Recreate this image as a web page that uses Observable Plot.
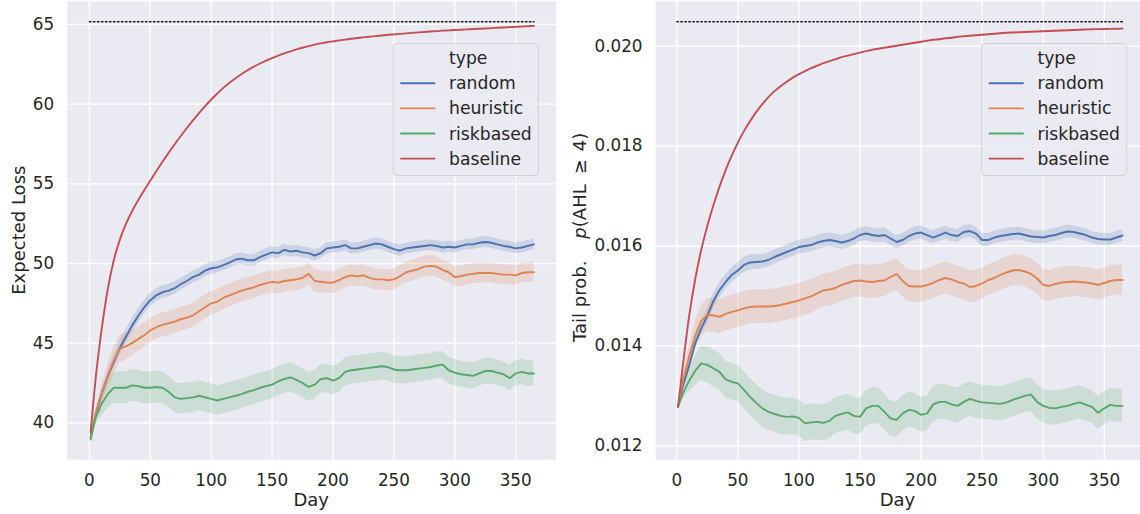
<!DOCTYPE html>
<html><head><meta charset="utf-8">
<script src="https://cdn.jsdelivr.net/npm/d3@7"></script>
<script src="https://cdn.jsdelivr.net/npm/@observablehq/plot@0.6"></script>
<style>
html,body{margin:0;padding:0;background:#fff;}
body{width:1140px;height:514px;overflow:hidden;position:relative;font-family:"DejaVu Sans",sans-serif;}
.panel{position:absolute;top:0;}
</style></head><body>
<div id="left" class="panel" style="left:0"></div>
<div id="right" class="panel" style="left:570px"></div>
<script>
const days = [1,5,10,15,20,25,30,35,40,45,
  50,55,60,65,70,75,80,85,90,95,
  100,105,110,115,120,125,130,135,140,145,
  150,155,160,165,170,175,180,185,190,195,
  200,205,210,215,220,225,230,235,240,245,
  250,255,260,265,270,275,280,285,290,295,
  300,305,310,315,320,325,330,335,340,345,
  350,355,360,365];
const types = ["random","heuristic","riskbased","baseline"];
const colors = ["#4c72b0","#dd8452","#55a868","#c44e52"];
const xTicks = [0,50,100,150,200,250,300,350];
const lossTicks = [40,45,50,55,60,65];
const tailTicks = [0.012,0.014,0.016,0.018,0.020];
const refDays = [0,365];
const lossRef = 65.17;
const tailRef = 0.02049;

// Expected loss panel
const lossRandom = [39.1,40.5,41.8,42.9,43.8,44.7,45.4,46.1,46.7,47.25,
  47.7,48.0,48.2,48.3,48.45,48.7,48.9,49.15,49.3,49.55,
  49.7,49.75,49.9,50.05,50.25,50.3,50.2,50.2,50.4,50.55,
  50.7,50.65,50.85,50.75,50.8,50.7,50.65,50.5,50.65,50.95,
  51.0,51.05,51.15,50.95,50.95,51.05,51.15,51.25,51.2,51.05,
  50.9,50.8,50.95,51.0,51.05,51.1,51.15,51.1,51.0,51.05,
  51.0,51.1,51.2,51.2,51.3,51.35,51.3,51.2,51.1,51.05,
  50.95,51.0,51.1,51.2];
const lossHeuristic = [39.1,40.5,41.8,42.9,43.9,44.65,44.8,45.0,45.25,45.5,
  45.8,46.0,46.15,46.25,46.35,46.5,46.6,46.75,47.0,47.25,
  47.5,47.6,47.85,48.0,48.15,48.3,48.4,48.5,48.65,48.75,
  48.85,48.8,48.9,48.95,49.0,49.1,49.35,48.9,48.85,48.8,
  48.8,48.95,49.15,49.25,49.2,49.25,49.1,49.0,49.0,48.95,
  49.0,49.2,49.45,49.55,49.65,49.8,49.85,49.8,49.6,49.45,
  49.15,49.2,49.3,49.35,49.4,49.4,49.4,49.35,49.3,49.3,
  49.25,49.4,49.45,49.45];
const lossRisk = [38.95,40.3,41.2,41.8,42.2,42.2,42.2,42.35,42.3,42.2,
  42.2,42.25,42.2,41.95,41.6,41.5,41.55,41.6,41.7,41.6,
  41.5,41.4,41.5,41.6,41.7,41.8,41.95,42.05,42.2,42.3,
  42.4,42.6,42.75,42.85,42.7,42.5,42.25,42.4,42.75,42.8,
  42.65,42.8,43.2,43.3,43.35,43.4,43.45,43.5,43.55,43.5,
  43.35,43.3,43.3,43.35,43.4,43.45,43.5,43.6,43.65,43.3,
  43.15,43.05,43.0,42.95,43.1,43.25,43.25,43.15,43.05,42.8,
  43.1,43.2,43.1,43.1];
const lossBaseline = [39.4,42.7,45.85,48.35,50.2,51.5,52.48,53.28,53.97,54.6,
  55.2,55.8,56.38,56.94,57.48,58.0,58.5,58.98,59.44,59.88,
  60.29,60.67,61.02,61.34,61.63,61.89,62.13,62.35,62.55,62.73,
  62.89,63.04,63.18,63.31,63.43,63.54,63.64,63.73,63.81,63.88,
  63.94,64.0,64.05,64.1,64.15,64.19,64.23,64.27,64.31,64.35,
  64.38,64.41,64.44,64.47,64.5,64.53,64.56,64.58,64.61,64.63,
  64.65,64.67,64.69,64.71,64.73,64.75,64.77,64.79,64.81,64.83,
  64.85,64.87,64.89,64.91];
const lossRandomHW = [0.05,0.15,0.25,0.32,0.38,0.42,0.45,0.45,0.45,0.43,
  0.42,0.40,0.40,0.39,0.38,0.38,0.38,0.38,0.37,0.37,
  0.37,0.36,0.36,0.36,0.36,0.36,0.36,0.36,0.36,0.36,
  0.36,0.36,0.35,0.35,0.35,0.35,0.35,0.35,0.35,0.35,
  0.35,0.35,0.35,0.35,0.35,0.35,0.35,0.35,0.35,0.35,
  0.35,0.35,0.34,0.34,0.34,0.34,0.34,0.34,0.34,0.34,
  0.34,0.34,0.34,0.34,0.34,0.34,0.34,0.34,0.34,0.34,
  0.34,0.34,0.34,0.34];
const lossHeuristicHW = [0.05,0.30,0.55,0.75,0.85,0.88,0.85,0.80,0.78,0.76,
  0.75,0.75,0.75,0.75,0.75,0.75,0.75,0.75,0.75,0.75,
  0.75,0.74,0.74,0.73,0.73,0.72,0.72,0.72,0.71,0.71,
  0.70,0.70,0.70,0.70,0.70,0.70,0.70,0.70,0.69,0.69,
  0.68,0.68,0.68,0.67,0.67,0.67,0.66,0.66,0.66,0.66,
  0.65,0.65,0.65,0.65,0.65,0.65,0.65,0.65,0.64,0.64,
  0.64,0.64,0.63,0.63,0.63,0.62,0.62,0.62,0.62,0.62,
  0.62,0.62,0.62,0.62];
const lossRiskHW = [0.05,0.45,0.75,0.90,0.98,1.00,1.00,1.00,1.00,1.00,
  1.00,1.00,1.00,0.98,0.97,0.96,0.95,0.95,0.94,0.94,
  0.93,0.93,0.92,0.92,0.92,0.92,0.92,0.92,0.92,0.92,
  0.92,0.92,0.92,0.92,0.91,0.91,0.91,0.90,0.90,0.90,
  0.90,0.89,0.89,0.88,0.88,0.88,0.87,0.87,0.87,0.86,
  0.86,0.86,0.85,0.85,0.85,0.84,0.84,0.84,0.83,0.83,
  0.83,0.82,0.82,0.82,0.81,0.81,0.81,0.80,0.80,0.80,
  0.80,0.80,0.80,0.80];

// Tail probability panel, in units of 0.001
const tailRandom = [12.78,13.2,13.6,14.05,14.35,14.6,14.9,15.12,15.28,15.42,
  15.51,15.62,15.67,15.68,15.69,15.72,15.78,15.83,15.88,15.93,
  15.98,16.0,16.02,16.07,16.1,16.12,16.1,16.07,16.1,16.15,
  16.22,16.25,16.22,16.2,16.22,16.15,16.08,16.12,16.2,16.25,
  16.27,16.22,16.17,16.22,16.27,16.22,16.2,16.28,16.3,16.25,
  16.12,16.12,16.17,16.2,16.22,16.24,16.25,16.22,16.19,16.18,
  16.17,16.2,16.22,16.26,16.29,16.28,16.25,16.22,16.17,16.14,
  16.13,16.13,16.17,16.21];
const tailHeuristic = [12.78,13.3,13.78,14.2,14.5,14.62,14.61,14.58,14.64,14.68,
  14.71,14.75,14.78,14.79,14.79,14.79,14.8,14.82,14.85,14.88,
  14.91,14.95,14.99,15.05,15.11,15.13,15.16,15.22,15.26,15.3,
  15.31,15.29,15.28,15.3,15.31,15.38,15.44,15.3,15.2,15.19,
  15.19,15.22,15.26,15.32,15.36,15.33,15.28,15.25,15.18,15.2,
  15.25,15.32,15.36,15.42,15.47,15.51,15.52,15.49,15.44,15.35,
  15.22,15.2,15.24,15.27,15.28,15.29,15.28,15.27,15.25,15.22,
  15.26,15.3,15.32,15.32];
const tailRisk = [12.78,13.05,13.3,13.5,13.65,13.62,13.55,13.48,13.33,13.28,
  13.25,13.12,12.98,12.86,12.75,12.68,12.64,12.6,12.58,12.59,
  12.56,12.45,12.47,12.48,12.46,12.5,12.6,12.64,12.67,12.6,
  12.58,12.75,12.8,12.8,12.68,12.55,12.52,12.65,12.72,12.7,
  12.62,12.65,12.83,12.88,12.88,12.83,12.8,12.88,12.94,12.9,
  12.87,12.86,12.85,12.84,12.87,12.92,12.96,13.0,13.03,12.88,
  12.8,12.76,12.75,12.78,12.8,12.84,12.87,12.82,12.78,12.66,
  12.75,12.82,12.8,12.8];
const tailBaseline = [12.78,13.62,14.58,15.33,15.92,16.4,16.82,17.19,17.52,17.81,
  18.07,18.3,18.5,18.68,18.84,18.98,19.1,19.2,19.29,19.37,
  19.44,19.5,19.56,19.61,19.66,19.7,19.74,19.78,19.81,19.84,
  19.87,19.9,19.93,19.95,19.97,19.99,20.01,20.03,20.05,20.07,
  20.09,20.11,20.13,20.14,20.16,20.17,20.19,20.2,20.21,20.22,
  20.23,20.24,20.25,20.26,20.27,20.275,20.28,20.285,20.29,20.295,
  20.3,20.305,20.31,20.315,20.32,20.325,20.33,20.335,20.34,20.342,
  20.345,20.347,20.35,20.352];
const tailRandomHW = [0.01,0.06,0.10,0.12,0.13,0.14,0.15,0.15,0.15,0.15,
  0.15,0.15,0.15,0.15,0.14,0.14,0.14,0.14,0.14,0.14,
  0.14,0.14,0.14,0.14,0.14,0.14,0.14,0.14,0.14,0.14,
  0.14,0.14,0.14,0.14,0.14,0.13,0.13,0.13,0.13,0.13,
  0.13,0.13,0.13,0.13,0.13,0.13,0.13,0.13,0.13,0.13,
  0.13,0.13,0.13,0.13,0.13,0.13,0.13,0.13,0.13,0.13,
  0.13,0.13,0.13,0.13,0.13,0.12,0.12,0.12,0.12,0.12,
  0.12,0.12,0.12,0.12];
const tailHeuristicHW = [0.01,0.12,0.20,0.27,0.31,0.33,0.34,0.34,0.34,0.34,
  0.34,0.34,0.34,0.34,0.34,0.34,0.34,0.34,0.34,0.34,
  0.34,0.34,0.34,0.33,0.33,0.33,0.33,0.33,0.33,0.33,
  0.33,0.33,0.33,0.33,0.33,0.32,0.32,0.32,0.32,0.32,
  0.32,0.32,0.32,0.32,0.32,0.32,0.32,0.32,0.32,0.32,
  0.31,0.31,0.31,0.31,0.31,0.31,0.31,0.31,0.31,0.31,
  0.31,0.31,0.31,0.31,0.31,0.30,0.30,0.30,0.30,0.30,
  0.30,0.30,0.30,0.30];
const tailRiskHW = [0.01,0.12,0.22,0.30,0.34,0.36,0.37,0.37,0.37,0.37,
  0.37,0.37,0.37,0.37,0.37,0.37,0.37,0.37,0.37,0.37,
  0.36,0.36,0.36,0.36,0.36,0.36,0.36,0.36,0.36,0.36,
  0.36,0.36,0.36,0.36,0.36,0.35,0.35,0.35,0.35,0.35,
  0.35,0.35,0.35,0.35,0.35,0.35,0.35,0.35,0.35,0.35,
  0.34,0.34,0.34,0.34,0.34,0.34,0.34,0.34,0.34,0.34,
  0.34,0.34,0.34,0.34,0.34,0.33,0.33,0.33,0.33,0.33,
  0.33,0.33,0.33,0.33];

function rowsFrom(series, hws, k) {
  const lines = [], bands = [];
  series.forEach((vals, i) => vals.forEach((v, j) => {
    lines.push({type: types[i], day: days[j], value: v * k});
    if (hws[i]) bands.push({type: types[i], day: days[j], lo: (v - hws[i][j]) * k, hi: (v + hws[i][j]) * k});
  }));
  return {lines, bands};
}

function panel(opts) {
  const {rows, xDomain, yDomain, yTicks, yFormat, marginLeft, marginRight, ref} = opts;
  const refRows = refDays.map(d => ({day: d, value: ref}));
  return Plot.plot({
    width: 570, height: 514,
    marginLeft, marginRight, marginTop: 1, marginBottom: 54.7,
    x: {domain: xDomain, ticks: xTicks, tickSize: 0, tickPadding: 14, label: null},
    y: {domain: yDomain, ticks: yTicks, tickSize: 0, tickPadding: 13, label: null, tickFormat: yFormat},
    color: {domain: types, range: colors},
    style: {fontFamily: "DejaVu Sans", fontSize: "16.8px", color: "#262626", background: "transparent", overflow: "visible"},
    marks: [
      Plot.frame({fill: "#eaeaf2", stroke: null}),
      Plot.gridX(xTicks, {stroke: "#ffffff", strokeOpacity: 1, strokeWidth: 1.3}),
      Plot.gridY(yTicks, {stroke: "#ffffff", strokeOpacity: 1, strokeWidth: 1.3}),
      Plot.areaY(rows.bands, {x: "day", y1: "lo", y2: "hi", z: "type", fill: "type", fillOpacity: 0.2}),
      Plot.lineY(rows.lines.filter(d => d.type !== "baseline"), {x: "day", y: "value", z: "type", stroke: "type", strokeWidth: 1.9}),
      Plot.lineY(rows.lines.filter(d => d.type === "baseline"), {x: "day", y: "value", stroke: "type", strokeWidth: 1.9, curve: "monotone-x"}),
      Plot.lineY(refRows, {x: "day", y: "value", stroke: "#1a1a1a", strokeWidth: 1.5, strokeDasharray: "1.5,2.5"})
    ]
  });
}

function addLegend(svg, bx) {
  const g = svg.append("g").attr("font-family", "DejaVu Sans").attr("font-size", "17.2px")
    .attr("fill", "#262626").attr("text-anchor", "start");
  g.append("rect").attr("x", bx).attr("y", 43.5).attr("width", 145).attr("height", 132)
    .attr("rx", 4).attr("fill", "#eaeaf2").attr("fill-opacity", 0.8)
    .attr("stroke", "#cccccc").attr("stroke-opacity", 0.8).attr("stroke-width", 1);
  g.append("text").attr("x", bx + 55.7).attr("y", 63.5).attr("text-anchor", "start").text("type");
  types.forEach((t, i) => {
    const y = 83.3 + i * 25.1;
    g.append("line").attr("x1", bx + 7).attr("x2", bx + 42).attr("y1", y).attr("y2", y)
      .attr("stroke", colors[i]).attr("stroke-width", 1.9);
    g.append("text").attr("x", bx + 55.7).attr("y", y + 6).attr("text-anchor", "start").text(t);
  });
}

const lossRows = rowsFrom([lossRandom, lossHeuristic, lossRisk, lossBaseline], [lossRandomHW, lossHeuristicHW, lossRiskHW, null], 1);
const tailRows = rowsFrom([tailRandom, tailHeuristic, tailRisk, tailBaseline], [tailRandomHW, tailHeuristicHW, tailRiskHW, null], 0.001);

const leftPlot = panel({rows: lossRows, xDomain: [-18.25, 383.25], yDomain: [37.68, 66.44], yTicks: lossTicks,
  yFormat: d3.format("d"), marginLeft: 66.7, marginRight: 14.3, ref: lossRef});
const rightPlot = panel({rows: tailRows, xDomain: [-17.45, 379.7], yDomain: [0.01172, 0.020895], yTicks: tailTicks,
  yFormat: d3.format(".3f"), marginLeft: 85, marginRight: 0, ref: tailRef});

document.getElementById("left").appendChild(leftPlot);
document.getElementById("right").appendChild(rightPlot);

const ls = d3.select(leftPlot), rs = d3.select(rightPlot);
[ls, rs].forEach((s, i) => {
  s.append("text").attr("x", i === 0 ? 311.2 : 327.5).attr("y", 506).attr("text-anchor", "middle")
    .attr("font-family", "DejaVu Sans").attr("font-size", "18px").attr("fill", "#262626").text("Day");
});
ls.append("text").attr("transform", "translate(25,230.2) rotate(-90)").attr("text-anchor", "middle")
  .attr("font-family", "DejaVu Sans").attr("font-size", "18px").attr("fill", "#262626").text("Expected Loss");
const rl = rs.append("text").attr("transform", "translate(16,342) rotate(-90)").attr("text-anchor", "start")
  .attr("font-family", "DejaVu Sans").attr("font-size", "18px").attr("fill", "#262626");
rl.append("tspan").text("Tail prob.");
rl.append("tspan").attr("dx", 22).attr("font-style", "italic").text("p");
rl.append("tspan").text("(AHL");
rl.append("tspan").attr("dx", 10).text("≥");
rl.append("tspan").attr("dx", 8).text("4)");

addLegend(ls, 393.3);
addLegend(rs, 411.7);
</script>
</body></html>
